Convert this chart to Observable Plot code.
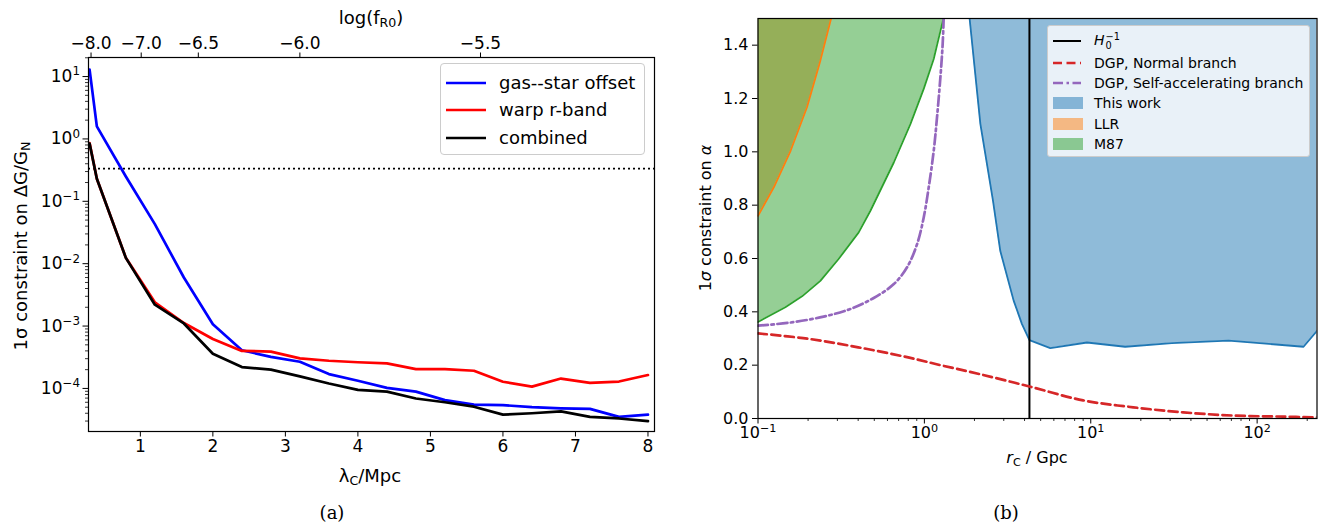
<!DOCTYPE html>
<html>
<head>
<meta charset="utf-8">
<script src="https://cdn.jsdelivr.net/npm/d3@7"></script>
<script src="https://cdn.jsdelivr.net/npm/@observablehq/plot@0.6"></script>
<style>
  body { margin: 0; background: #fff; }
  #wrap { position: relative; width: 1320px; height: 522px; overflow: hidden; font-family: "DejaVu Sans", sans-serif; color: #000; }
  .panel { position: absolute; top: 0; }
  .lbl { position: absolute; white-space: nowrap; transform: translate(-50%, -50%); line-height: 1; }
  .rot { transform: translate(-50%, -50%) rotate(-90deg); }
  .cap { position: absolute; font-family: "DejaVu Serif", serif; font-size: 18px; transform: translate(-50%, -50%); }
  sub { font-size: 0.7em; vertical-align: -0.25em; }
  .legend { position: absolute; box-sizing: border-box; border: 1px solid #cccccc; border-radius: 4px; }
  .item { position: absolute; white-space: nowrap; line-height: 1; }
  .ss { display: inline-flex; flex-direction: column; font-size: 0.7em; line-height: 0.95; vertical-align: middle; margin-left: 1px; }
</style>
</head>
<body>
<div id="wrap"></div>
<script>
// ---------------- Panel (a) data ----------------
const lambdaC = [0.3, 0.4, 0.8, 1.2, 1.6, 2.0, 2.4, 2.8, 3.2, 3.6, 4.0, 4.4, 4.8, 5.2, 5.6, 6.0, 6.4, 6.8, 7.2, 7.6, 8.0];
const gasStarOffset = [12.9, 1.59, 0.25, 0.043, 0.006, 1.07e-3, 4.1e-4, 3.2e-4, 2.68e-4, 1.7e-4, 1.33e-4, 1.02e-4, 8.9e-5, 6.5e-5, 5.5e-5, 5.4e-5, 5.0e-5, 4.8e-5, 4.7e-5, 3.5e-5, 3.8e-5];
const warpRBand = [0.86, 0.23, 0.0124, 2.4e-3, 1.12e-3, 6.2e-4, 4.0e-4, 3.9e-4, 3.03e-4, 2.78e-4, 2.63e-4, 2.52e-4, 2.04e-4, 2.04e-4, 1.92e-4, 1.28e-4, 1.07e-4, 1.44e-4, 1.23e-4, 1.29e-4, 1.64e-4];
const combined = [0.84, 0.23, 0.0124, 2.2e-3, 1.1e-3, 3.6e-4, 2.2e-4, 2.0e-4, 1.56e-4, 1.2e-4, 9.5e-5, 8.9e-5, 6.9e-5, 6.0e-5, 5.1e-5, 3.8e-5, 4.0e-5, 4.3e-5, 3.5e-5, 3.3e-5, 3.0e-5];
const dottedLevel = 1 / 3;
const leftXTicks = [1, 2, 3, 4, 5, 6, 7, 8];
const leftYTicks = [1e-4, 1e-3, 1e-2, 1e-1, 1, 10];
const topTickLogF = [-8.0, -7.0, -6.5, -6.0, -5.5];
const seriesNames = ["gas--star offset", "warp r-band", "combined"];
const seriesColors = ["#0000ff", "#ff0000", "#000000"];

// ---------------- Panel (b) data ----------------
const rcHubble = 4.28; // H0^-1 in Gpc
const dgpNormalRc = [0.1, 0.2, 0.4, 0.8, 1.25, 2.1, 4.28, 9.0, 18, 36, 72, 144, 229];
const dgpNormalAlpha = [0.319, 0.299, 0.267, 0.229, 0.200, 0.168, 0.120, 0.068, 0.042, 0.023, 0.011, 0.007, 0.004];
const dgpSelfRc = [0.1, 0.157, 0.248, 0.360, 0.496, 0.655, 0.787, 0.904, 0.991, 1.062, 1.138, 1.191, 1.248, 1.288, 1.306];
const dgpSelfAlpha = [0.348, 0.360, 0.382, 0.411, 0.452, 0.504, 0.567, 0.654, 0.754, 0.867, 1.004, 1.129, 1.279, 1.404, 1.5];
const thisWorkRc = [1.87, 2.17, 2.58, 2.86, 3.44, 3.86, 4.28, 5.71, 9.49, 16.1, 30.7, 67.3, 190, 229];
const thisWorkAlpha = [1.5, 1.105, 0.82, 0.628, 0.442, 0.354, 0.294, 0.264, 0.285, 0.269, 0.283, 0.292, 0.269, 0.329];
const llrRc = [0.1, 0.1245, 0.157, 0.197, 0.237, 0.275];
const llrAlpha = [0.760, 0.867, 1.004, 1.167, 1.342, 1.5];
const m87Rc = [0.1, 0.146, 0.184, 0.237, 0.305, 0.403, 0.474, 0.655, 0.824, 0.991, 1.138, 1.277, 1.306];
const m87Alpha = [0.362, 0.417, 0.458, 0.516, 0.598, 0.698, 0.779, 0.960, 1.104, 1.236, 1.348, 1.479, 1.5];
const alphaMax = 1.5;
const rightXTicks = [0.1, 1, 10, 100];
const rightYTicks = [0, 0.2, 0.4, 0.6, 0.8, 1.0, 1.2, 1.4];
const C0 = "#1f77b4", C1 = "#ff7f0e", C2 = "#2ca02c", C3 = "#d62728", C4 = "#9467bd";

// ---------------- helpers ----------------
const supMap = {"-": "⁻", "0": "⁰", "1": "¹", "2": "²", "3": "³", "4": "⁴", "5": "⁵", "6": "⁶", "7": "⁷", "8": "⁸", "9": "⁹"};
const supInv = {"⁻": "−", "⁰": "0", "¹": "1", "²": "2", "³": "3", "⁴": "4", "⁵": "5", "⁶": "6", "⁷": "7", "⁸": "8", "⁹": "9"};
const powFmt = d => "10" + String(Math.round(Math.log10(d))).split("").map(c => supMap[c]).join("");
function logMinors(lo, hi) {
  const out = [];
  for (let e = Math.floor(Math.log10(lo)) - 1; e <= Math.ceil(Math.log10(hi)); e++)
    for (let m = 2; m <= 9; m++) { const v = m * Math.pow(10, e); if (v >= lo && v <= hi) out.push(v); }
  return out;
}
const lambdaFromLogF = f => 32 * Math.sqrt(Math.pow(10, f) / 1e-4);
const topTickPos = topTickLogF.map(lambdaFromLogF);
const f1 = d3.format(".1f");

// turn "10⁻¹" tick texts into "10" + raised exponent tspans (mathtext-like)
function fixSuperscripts(svg) {
  const ns = "http://www.w3.org/2000/svg";
  svg.querySelectorAll("text").forEach(t => {
    const m = t.textContent.match(/^10([⁻⁰¹²³⁴⁵⁶⁷⁸⁹]+)$/);
    if (!m) return;
    const exp = m[1].split("").map(c => supInv[c]).join("");
    t.textContent = "";
    const a = document.createElementNS(ns, "tspan"); a.textContent = "10";
    const b = document.createElementNS(ns, "tspan"); b.textContent = exp;
    b.setAttribute("font-size", "0.7em"); b.setAttribute("dy", "-0.55em");
    t.append(a, b);
  });
}

const wrap = document.getElementById("wrap");

// ---------------- Panel (a) ----------------
const leftYDomain = [2.04e-5, 20.2];
const left = Plot.plot({
  width: 660, height: 490,
  marginLeft: 88, marginRight: 6, marginTop: 57, marginBottom: 59,
  style: {fontFamily: "DejaVu Sans", fontSize: "17px", color: "#000", background: "transparent"},
  x: {domain: [0.285, 8.09]},
  y: {type: "log", domain: leftYDomain},
  marks: [
    Plot.ruleY([dottedLevel], {stroke: "#000", strokeWidth: 1.7, strokeDasharray: "2,3"}),
    Plot.line(lambdaC, {x: d => d, y: gasStarOffset, stroke: seriesColors[0], strokeWidth: 2.7, clip: true}),
    Plot.line(lambdaC, {x: d => d, y: warpRBand, stroke: seriesColors[1], strokeWidth: 2.7, clip: true}),
    Plot.line(lambdaC, {x: d => d, y: combined, stroke: seriesColors[2], strokeWidth: 2.7, clip: true}),
    Plot.frame({stroke: "#000", strokeWidth: 1.2}),
    Plot.axisY(logMinors(...leftYDomain), {tickSize: 3, tickFormat: () => "", label: null, strokeWidth: 0.8}),
    Plot.axisY(leftYTicks, {tickSize: 5.5, tickPadding: 3, tickFormat: powFmt, label: null, fontSize: 17}),
    Plot.axisX(leftXTicks, {tickSize: 5.5, tickPadding: 3, tickFormat: d => String(d), label: null, fontSize: 17}),
    Plot.axisX(topTickPos, {anchor: "top", tickSize: 5.5, tickPadding: 3, tickFormat: d => f1(topTickLogF[topTickPos.indexOf(d)]), label: null, fontSize: 17})
  ]
});
fixSuperscripts(left);
left.classList.add("panel");
left.style.left = "0px";
wrap.appendChild(left);

// ---------------- Panel (b) ----------------
const rightXDomain = [0.1, 229];
const right = Plot.plot({
  width: 660, height: 490,
  marginLeft: 97.5, marginRight: 3.5, marginTop: 18, marginBottom: 72,
  style: {fontFamily: "DejaVu Sans", fontSize: "16px", color: "#000", background: "transparent"},
  x: {type: "log", domain: rightXDomain},
  y: {domain: [0, alphaMax]},
  marks: [
    Plot.areaY(thisWorkRc, {x: d => d, y1: thisWorkAlpha, y2: () => alphaMax, fill: C0, fillOpacity: 0.5, clip: true}),
    Plot.areaY(llrRc, {x: d => d, y1: llrAlpha, y2: () => alphaMax, fill: C1, fillOpacity: 0.5, clip: true}),
    Plot.areaY(m87Rc, {x: d => d, y1: m87Alpha, y2: () => alphaMax, fill: C2, fillOpacity: 0.5, clip: true}),
    Plot.line(thisWorkRc, {x: d => d, y: thisWorkAlpha, stroke: C0, strokeWidth: 1.8, clip: true}),
    Plot.line(llrRc, {x: d => d, y: llrAlpha, stroke: C1, strokeWidth: 1.8, clip: true}),
    Plot.line(m87Rc, {x: d => d, y: m87Alpha, stroke: C2, strokeWidth: 1.8, clip: true}),
    Plot.ruleX([rcHubble], {stroke: "#000", strokeWidth: 2}),
    Plot.line(dgpNormalRc, {x: d => d, y: dgpNormalAlpha, stroke: C3, strokeWidth: 2.7, strokeDasharray: "9,4.5", curve: "catmull-rom", clip: true}),
    Plot.line(dgpSelfRc, {x: d => d, y: dgpSelfAlpha, stroke: C4, strokeWidth: 2.7, strokeDasharray: "10,3.5,2.5,3.5", curve: "catmull-rom", clip: true}),
    Plot.frame({stroke: "#000", strokeWidth: 1.2}),
    Plot.axisX(logMinors(...rightXDomain), {tickSize: 3, tickFormat: () => "", label: null, strokeWidth: 0.8}),
    Plot.axisX(rightXTicks, {tickSize: 5.5, tickPadding: 3, tickFormat: powFmt, label: null, fontSize: 16}),
    Plot.axisY(rightYTicks, {tickSize: 5.5, tickPadding: 4, tickFormat: f1, label: null, fontSize: 16})
  ]
});
fixSuperscripts(right);
right.classList.add("panel");
right.style.left = "660px";
wrap.appendChild(right);

// ---------------- Labels ----------------
function addHTML(cls, html, x, y, extra) {
  const el = document.createElement("div");
  el.className = cls;
  el.innerHTML = html;
  el.style.left = x + "px";
  el.style.top = y + "px";
  if (extra) Object.assign(el.style, extra);
  wrap.appendChild(el);
  return el;
}
addHTML("lbl", "log(f<sub>R0</sub>)", 371, 19, {fontSize: "18px"});
addHTML("lbl rot", "1σ constraint on ΔG/G<sub>N</sub>", 22, 246, {fontSize: "18px"});
addHTML("lbl", "λ<sub>C</sub>/Mpc", 370, 477, {fontSize: "18px"});
addHTML("lbl rot", "1<i>σ</i> constraint on <i>α</i>", 706, 218, {fontSize: "16px"});
addHTML("lbl", "<i>r</i><sub>C</sub> / Gpc", 1037, 459, {fontSize: "16px"});
addHTML("cap", "(a)", 332, 512);
addHTML("cap", "(b)", 1006, 512);

// ---------------- Legend (a) ----------------
const legA = addHTML("legend", "", 440, 63, {width: "205px", height: "92px", background: "#fff"});
const legAY = [18.5, 46, 73.5];
seriesNames.forEach((name, i) => {
  const it = document.createElement("div");
  it.className = "item";
  it.style.left = "5px"; it.style.top = (legAY[i] - 10) + "px";
  it.style.fontSize = "18px";
  it.innerHTML = `<svg width="40" height="20" style="vertical-align:middle"><line x1="0" x2="40" y1="10" y2="10" stroke="${seriesColors[i]}" stroke-width="2.7"/></svg><span style="margin-left:13px;vertical-align:middle">${name}</span>`;
  legA.appendChild(it);
});

// ---------------- Legend (b) ----------------
const legB = addHTML("legend", "", 1047, 25, {width: "263px", height: "132px", background: "rgba(255,255,255,0.8)", borderRadius: "3px"});
const legBItems = [
  {html: "<i>H</i><span class='ss'><span>−1</span><span>0</span></span>", sw: `<line x1="0" x2="28" y1="8" y2="8" stroke="#000" stroke-width="2"/>`},
  {html: "DGP, Normal branch", sw: `<line x1="0" x2="28" y1="8" y2="8" stroke="${C3}" stroke-width="2.7" stroke-dasharray="9,4.5"/>`},
  {html: "DGP, Self-accelerating branch", sw: `<line x1="0" x2="28" y1="8" y2="8" stroke="${C4}" stroke-width="2.7" stroke-dasharray="10,3.5,2.5,3.5"/>`},
  {html: "This work", sw: `<rect x="0" y="2" width="30" height="12" fill="${C0}" fill-opacity="0.5"/>`},
  {html: "LLR", sw: `<rect x="0" y="2" width="30" height="12" fill="${C1}" fill-opacity="0.5"/>`},
  {html: "M87", sw: `<rect x="0" y="2" width="30" height="12" fill="${C2}" fill-opacity="0.5"/>`}
];
const legBY = [13.5, 36.5, 56.5, 76.5, 98, 118];
legBItems.forEach((d, i) => {
  const it = document.createElement("div");
  it.className = "item";
  it.style.left = "5px"; it.style.top = (legBY[i] - 8) + "px";
  it.style.fontSize = "14px";
  it.innerHTML = `<svg width="30" height="16" style="vertical-align:middle">${d.sw}</svg><span style="margin-left:11px;vertical-align:middle">${d.html}</span>`;
  legB.appendChild(it);
});
</script>
</body>
</html>
